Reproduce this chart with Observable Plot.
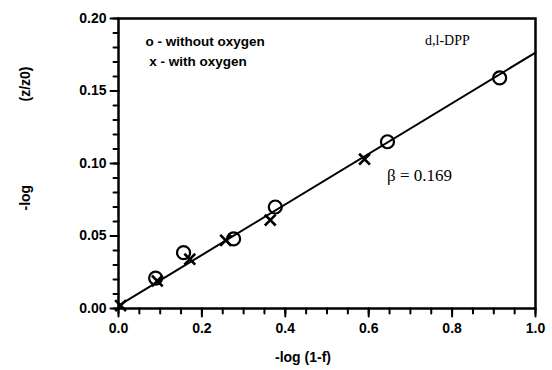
<!DOCTYPE html>
<html><head><meta charset="utf-8">
<script src="https://cdn.jsdelivr.net/npm/d3@7"></script>
<script src="https://cdn.jsdelivr.net/npm/@observablehq/plot@0.6"></script>
<style>body{margin:0;background:#fff}</style>
</head><body><div id="chart"></div>
<script>
const withoutX = [0.089, 0.156, 0.276, 0.376, 0.645, 0.914];
const withoutY = [0.021, 0.0385, 0.048, 0.070, 0.115, 0.159];
const withX = [0.005, 0.093, 0.171, 0.257, 0.364, 0.590];
const withY = [0.002, 0.019, 0.034, 0.047, 0.061, 0.103];
const fitX = [0, 1.0];
const fitY = [0.002, 0.1765];
const xTicks = [0, 0.2, 0.4, 0.6, 0.8, 1.0];
const yTicks = [0, 0.05, 0.10, 0.15, 0.20];
const xMinor = d3.range(0, 1.0001, 0.05);
const yMinor = d3.range(0, 0.2001, 0.01);
const legendText = ["o - without oxygen", " x - with oxygen"];
const legendX = [0.065, 0.065];
const legendY = [0.184, 0.170];
const noteText = ["d,l-DPP", "\u03B2 = 0.169"];
const noteX = [0.735, 0.644];
const noteY = [0.185, 0.092];
const noteSize = [14, 17];

const circ = withoutX.map((x, i) => ({x, y: withoutY[i]}));
const crs = withX.map((x, i) => ({x, y: withY[i]}));
const fit = fitX.map((x, i) => ({x, y: fitY[i]}));
const bold = "'Liberation Sans', Arial, sans-serif";
const serif = "'Liberation Serif', 'Times New Roman', serif";
const tickShape = {draw(c, l) { c.moveTo(0, 0); c.lineTo(0, -l); }};

const chart = Plot.plot({
  width: 552, height: 370,
  marginLeft: 118, marginRight: 17, marginTop: 18, marginBottom: 62,
  x: {type: "linear", domain: [0, 1.0], axis: null},
  y: {type: "linear", domain: [0, 0.20], axis: null},
  marks: [
    Plot.vector(xMinor, {x: d => d, y: 0, length: 5, rotate: 180, anchor: "start", shape: tickShape, stroke: "#000", strokeWidth: 2}),
    Plot.vector(xTicks, {x: d => d, y: 0, length: 8, rotate: 180, anchor: "start", shape: tickShape, stroke: "#000", strokeWidth: 2}),
    Plot.vector(yMinor, {x: 0, y: d => d, length: 5, rotate: -90, anchor: "start", shape: tickShape, stroke: "#000", strokeWidth: 2}),
    Plot.vector(yTicks, {x: 0, y: d => d, length: 8, rotate: -90, anchor: "start", shape: tickShape, stroke: "#000", strokeWidth: 2}),
    Plot.text(xTicks, {x: d => d, frameAnchor: "bottom", dy: 24, text: d3.format(".1f"), fontSize: 14, fontWeight: "bold", fontFamily: bold, fill: "#000"}),
    Plot.text(yTicks, {y: d => d, frameAnchor: "left", dx: -12, textAnchor: "end", text: d3.format(".2f"), fontSize: 14, fontWeight: "bold", fontFamily: bold, fill: "#000"}),
    Plot.frame({stroke: "#000", strokeWidth: 2.5}),
    Plot.line(fit, {x: "x", y: "y", stroke: "#000", strokeWidth: 2}),
    Plot.dot(circ, {x: "x", y: "y", r: 6.5, stroke: "#000", strokeWidth: 2.2, fill: "none"}),
    Plot.dot(crs, {x: "x", y: "y", r: 5, symbol: "times", stroke: "#000", strokeWidth: 2.6}),
    Plot.text(legendText, {x: (d, i) => legendX[i], y: (d, i) => legendY[i], text: d => d, textAnchor: "start", fontSize: 13.5, fontWeight: "bold", fontFamily: bold, fill: "#000"}),
    Plot.text(noteText, {x: (d, i) => noteX[i], y: (d, i) => noteY[i], text: d => d, textAnchor: "start", fontSize: (d, i) => noteSize[i], fontWeight: "normal", fontFamily: serif, fill: "#000"}),
    Plot.text(["-log (1-f)"], {frameAnchor: "bottom", dx: -24, dy: 53, text: d => d, fontSize: 14, fontWeight: "bold", fontFamily: bold, fill: "#000"}),
    Plot.text(["(z/z0)"], {frameAnchor: "left", dx: -93, dy: -62, rotate: -90, text: d => d, fontSize: 14, fontWeight: "bold", fontFamily: bold, fill: "#000"}),
    Plot.text(["-log"], {frameAnchor: "left", dx: -93, dy: 47, rotate: -90, text: d => d, fontSize: 14, fontWeight: "bold", fontFamily: bold, fill: "#000"})
  ]
});
document.getElementById("chart").appendChild(chart);
</script></body></html>
